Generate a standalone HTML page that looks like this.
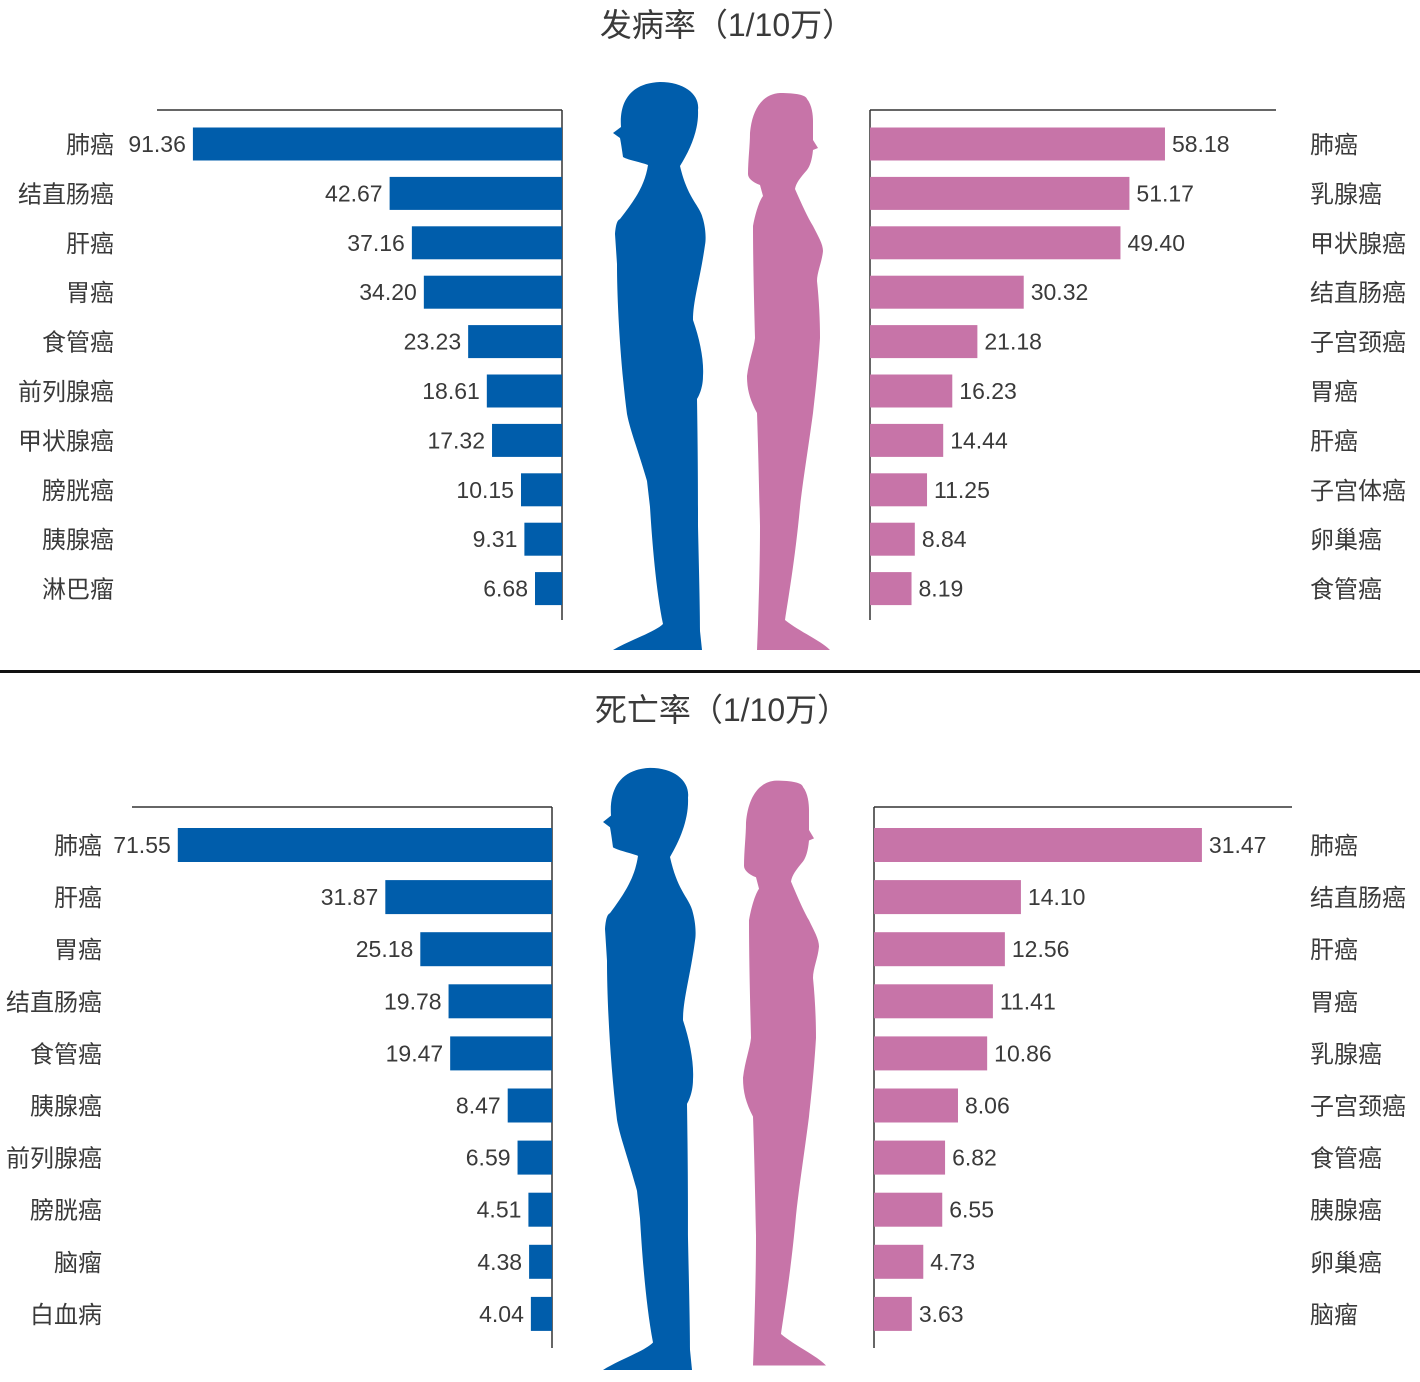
<!DOCTYPE html>
<html><head><meta charset="utf-8">
<style>
html,body{margin:0;padding:0;background:#fff;}
svg{display:block;}
text{font-family:"Liberation Sans","Noto Sans CJK SC",sans-serif;fill:#3a3a3a;}
</style></head>
<body>
<svg id="chart" width="1420" height="1382" viewBox="0 0 1420 1382" xmlns="http://www.w3.org/2000/svg">
<text x="727" y="36" font-size="32" text-anchor="middle">发病率（1/10万）</text>
<text x="722" y="721" font-size="32" text-anchor="middle">死亡率（1/10万）</text>
<rect x="0" y="670" width="1420" height="3" fill="#111"/>
<g>
<path fill="#005dab" d="M660 82 C685 82 700 95 698 110 C699 130 690 150 680 166 C688 200 700 205 703 219 C706 230 706 240 705 245 C700 280 693 300 693 320 C700 340 704 360 703 376 C703 390 697 399 697 399 C698 460 698 500 698 526 C699 570 700 610 700 631 L702 650 L613 650 C630 640 655 632 663 624 C656 590 652 540 650 507 L647 481 C638 450 630 430 627 414 C620 360 617 300 617 264 L615 234 C616 222 618 220 620 219 C635 200 645 185 648 165 C640 162 628 160 623 157 C622 150 621 143 620 138 L613 133 L621 127 C619 100 632 83 660 82 Z"/>
</g>
<g>
<path fill="#c774a8" d="M780 93 C796 93 806 95 807 99 C812 105 813 115 813 121 L813 140 L818 148 L813 150 C812 160 810 166 807 170 C800 178 796 183 795 189 C802 205 808 218 813 226 C818 236 823 244 823 251 C822 262 817 272 817 281 C819 300 820 320 820 338 C818 370 815 395 813 413 C808 450 803 480 800 507 C795 560 788 600 785 620 C800 632 820 640 830 650 L757 650 L758 624 C759 590 760 560 760 526 C759 480 758 440 757 413 C750 400 747 390 747 376 C749 360 754 348 755 338 C754 300 753 260 753 226 C756 210 760 200 763 196 L760 185 C752 182 748 178 748 174 C748 160 750 145 750 133 C752 110 762 94 780 93 Z"/>
</g>
<g transform="translate(-10,681) scale(1,1.06)">
<path fill="#005dab" d="M660 82 C685 82 700 95 698 110 C699 130 690 150 680 166 C688 200 700 205 703 219 C706 230 706 240 705 245 C700 280 693 300 693 320 C700 340 704 360 703 376 C703 390 697 399 697 399 C698 460 698 500 698 526 C699 570 700 610 700 631 L702 650 L613 650 C630 640 655 632 663 624 C656 590 652 540 650 507 L647 481 C638 450 630 430 627 414 C620 360 617 300 617 264 L615 234 C616 222 618 220 620 219 C635 200 645 185 648 165 C640 162 628 160 623 157 C622 150 621 143 620 138 L613 133 L621 127 C619 100 632 83 660 82 Z"/>
</g>
<g transform="translate(-4,683) scale(1,1.05)">
<path fill="#c774a8" d="M780 93 C796 93 806 95 807 99 C812 105 813 115 813 121 L813 140 L818 148 L813 150 C812 160 810 166 807 170 C800 178 796 183 795 189 C802 205 808 218 813 226 C818 236 823 244 823 251 C822 262 817 272 817 281 C819 300 820 320 820 338 C818 370 815 395 813 413 C808 450 803 480 800 507 C795 560 788 600 785 620 C800 632 820 640 830 650 L757 650 L758 624 C759 590 760 560 760 526 C759 480 758 440 757 413 C750 400 747 390 747 376 C749 360 754 348 755 338 C754 300 753 260 753 226 C756 210 760 200 763 196 L760 185 C752 182 748 178 748 174 C748 160 750 145 750 133 C752 110 762 94 780 93 Z"/>
</g>
<g id="bars"></g>
</svg>
<script>
const incMaleCats = ["肺癌","结直肠癌","肝癌","胃癌","食管癌","前列腺癌","甲状腺癌","膀胱癌","胰腺癌","淋巴瘤"];
const incMaleVals = [91.36,42.67,37.16,34.20,23.23,18.61,17.32,10.15,9.31,6.68];
const incFemaleCats = ["肺癌","乳腺癌","甲状腺癌","结直肠癌","子宫颈癌","胃癌","肝癌","子宫体癌","卵巢癌","食管癌"];
const incFemaleVals = [58.18,51.17,49.40,30.32,21.18,16.23,14.44,11.25,8.84,8.19];
const mortMaleCats = ["肺癌","肝癌","胃癌","结直肠癌","食管癌","胰腺癌","前列腺癌","膀胱癌","脑瘤","白血病"];
const mortMaleVals = [71.55,31.87,25.18,19.78,19.47,8.47,6.59,4.51,4.38,4.04];
const mortFemaleCats = ["肺癌","结直肠癌","肝癌","胃癌","乳腺癌","子宫颈癌","食管癌","胰腺癌","卵巢癌","脑瘤"];
const mortFemaleVals = [31.47,14.10,12.56,11.41,10.86,8.06,6.82,6.55,4.73,3.63];

const NS="http://www.w3.org/2000/svg";
const root=document.getElementById('bars');
function mk(tag,attrs){const e=document.createElementNS(NS,tag);for(const k in attrs)e.setAttribute(k,attrs[k]);root.appendChild(e);return e;}

function panel(cfg){
  const y=i=>cfg.y0+i*cfg.step;
  const sx=v=>v*cfg.scale;
  // axes
  let l=mk('line',{x1:cfg.axisX,y1:cfg.top,x2:cfg.axisX,y2:cfg.bottom,stroke:'#333','stroke-width':1.5});
  
  
  let t=mk('line',{x1:cfg.lineFrom,y1:cfg.top,x2:cfg.lineTo,y2:cfg.top,stroke:'#333','stroke-width':1.5});
  
  
  cfg.vals.forEach((v,i)=>{
    const w=sx(v), cy=y(i);
    const x=cfg.dir<0?cfg.axisX-w:cfg.axisX;
    const r=mk('rect',{x:x,y:cy-cfg.h/2,width:w,height:cfg.h,fill:cfg.color});
    
    
    const vt=mk('text',{x:cfg.dir<0?x-7:x+w+7,y:cy+8,'font-size':23,'text-anchor':cfg.dir<0?'end':'start'});
    vt.textContent=v.toFixed(2);
    
    
    const ct=mk('text',{x:cfg.catX,y:cy+9,'font-size':24,'text-anchor':cfg.dir<0?'end':'start'});
    ct.textContent=cfg.cats[i];
    
    
  });
}
panel({name:'inc-male',cats:incMaleCats,vals:incMaleVals,dir:-1,axisX:562,scale:4.04,y0:144,step:49.4,h:33,top:110,bottom:620,lineFrom:157,lineTo:562,catX:114,color:'#005dab'});
panel({name:'inc-female',cats:incFemaleCats,vals:incFemaleVals,dir:1,axisX:870,scale:5.07,y0:144,step:49.4,h:33,top:110,bottom:620,lineFrom:870,lineTo:1276,catX:1310,color:'#c774a8'});
panel({name:'mort-male',cats:mortMaleCats,vals:mortMaleVals,dir:-1,axisX:552,scale:5.23,y0:845,step:52.1,h:34,top:807,bottom:1348,lineFrom:132,lineTo:552,catX:102,color:'#005dab'});
panel({name:'mort-female',cats:mortFemaleCats,vals:mortFemaleVals,dir:1,axisX:874,scale:10.42,y0:845,step:52.1,h:34,top:807,bottom:1348,lineFrom:874,lineTo:1292,catX:1310,color:'#c774a8'});
</script>
</body></html>
